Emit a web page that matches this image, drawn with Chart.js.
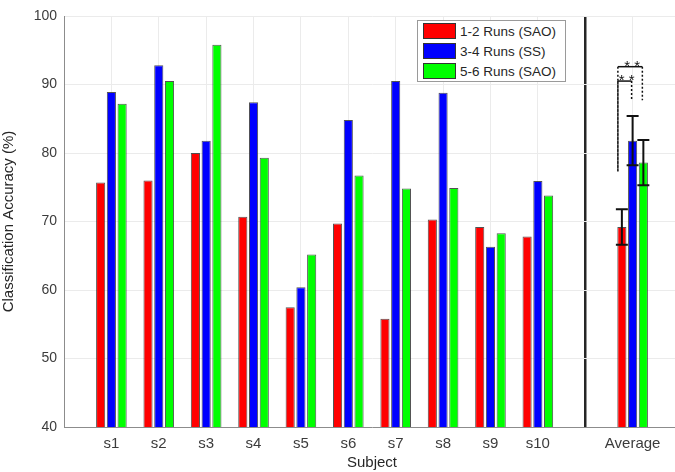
<!DOCTYPE html>
<html>
<head>
<meta charset="utf-8">
<script src="https://cdn.jsdelivr.net/npm/chart.js@4"></script>
<style>
  body { margin: 0; background: #fff; overflow: hidden; }
  #wrap { position: relative; width: 675px; height: 472px; overflow: hidden; }
  #legend {
    position: absolute; left: 417px; top: 20px; width: 147px; height: 60px;
    border: 1px solid #9a9a9a; background: #fff;
    font-family: "Liberation Sans", Arial, sans-serif; font-size: 13.5px; color: #262626;
  }
  #legend div { height: 20px; display: flex; align-items: center; padding-left: 5px; }
  #legend span.sw { width: 31px; height: 14px; border: 1px solid #333; margin-right: 4px; }
</style>
</head>
<body>
<div id="wrap">
  <!-- the plot box runs a few pixels past the right edge, as in the original crop -->
  <canvas id="myChart" width="680" height="472"></canvas>
  <div id="legend"></div>
</div>
<script>
// subjects, with empty slots for the gap and the divider
var labels = ["", "s1", "s2", "s3", "s4", "s5", "s6", "s7", "s8", "s9", "s10", "", "Average", ""];
var runs12 = [null, 75.7, 76.0, 80.0, 70.7, 57.5, 69.7, 55.8, 70.3, 69.2, 67.8, null, 69.2, null];
var runs34 = [null, 88.9, 92.8, 81.8, 87.4, 60.4, 84.8, 90.5, 88.8, 66.3, 75.9, null, 81.8, null];
var runs56 = [null, 87.2, 90.5, 95.8, 79.3, 65.2, 76.7, 74.8, 74.9, 68.3, 73.8, null, 78.6, null];
var seriesNames = ["1-2 Runs (SAO)", "3-4 Runs (SS)", "5-6 Runs (SAO)"];
var seriesColors = ["#ff0000", "#0000ff", "#00ff00"];

// error bars on the average (+/-)
var avgErr = [2.6, 3.6, 3.3];
// significance brackets: [from series, to series, bracket level, leg end left, leg end right]
var sigBrackets = [
  [0, 2, 92.6, 77.3, 87.7],
  [0, 1, 90.5, 77.3, 87.7]
];

var yTicks = [40, 50, 60, 70, 80, 90, 100];
var dividerIndex = 11;
var avgIndex = labels.indexOf("Average");

// legend in html
var legendBox = document.getElementById("legend");
seriesNames.forEach(function (name, i) {
  var row = document.createElement("div");
  row.innerHTML = '<span class="sw" style="background:' + seriesColors[i] + '"></span>' + name;
  legendBox.appendChild(row);
});

// error bars and significance markers
var extras = {
  id: "extras",
  afterDatasetsDraw: function (chart) {
    var ctx = chart.ctx;
    var y = chart.scales.y;
    var cx = [0, 1, 2].map(function (i) { return chart.getDatasetMeta(i).data[avgIndex].x; });
    var vals = [runs12[avgIndex], runs34[avgIndex], runs56[avgIndex]];
    ctx.save();
    ctx.strokeStyle = "#111";
    ctx.lineWidth = 2;
    for (var i = 0; i < 3; i++) {
      var top = y.getPixelForValue(vals[i] + avgErr[i]);
      var bot = y.getPixelForValue(vals[i] - avgErr[i]);
      ctx.beginPath();
      ctx.moveTo(cx[i], top); ctx.lineTo(cx[i], bot);
      ctx.moveTo(cx[i] - 6, top); ctx.lineTo(cx[i] + 6, top);
      ctx.moveTo(cx[i] - 6, bot); ctx.lineTo(cx[i] + 6, bot);
      ctx.stroke();
    }
    ctx.lineWidth = 1.5;
    ctx.fillStyle = "#111";
    ctx.font = "15px 'Liberation Sans', Arial, sans-serif";
    ctx.textAlign = "center";
    ctx.textBaseline = "alphabetic";
    sigBrackets.forEach(function (b) {
      var x1 = cx[b[0]] - 4, x2 = cx[b[1]] - 1;
      var lv = y.getPixelForValue(b[2]);
      ctx.setLineDash([]);
      ctx.beginPath();
      ctx.moveTo(x1, lv); ctx.lineTo(x2, lv);
      ctx.stroke();
      ctx.setLineDash([2, 2]);
      ctx.beginPath();
      ctx.moveTo(x1, lv); ctx.lineTo(x1, y.getPixelForValue(b[3]));
      ctx.moveTo(x2, lv); ctx.lineTo(x2, y.getPixelForValue(b[4]));
      ctx.stroke();
      ctx.fillText("* *", (x1 + x2) / 2 + 2, lv + 4);
    });
    ctx.restore();
  }
};

var datasets = [runs12, runs34, runs56].map(function (d, i) {
  return {
    label: seriesNames[i],
    data: d,
    backgroundColor: seriesColors[i],
    borderColor: "rgba(40,40,40,0.8)",
    borderWidth: 1,
    categoryPercentage: 0.68,
    barPercentage: 0.85
  };
});

var family = "'Liberation Sans', Arial, sans-serif";

new Chart(document.getElementById("myChart").getContext("2d"), {
  type: "bar",
  data: { labels: labels, datasets: datasets },
  options: {
    responsive: false,
    animation: false,
    layout: { padding: { top: 16, right: 0, left: 0, bottom: 0 } },
    plugins: { legend: { display: false }, tooltip: { enabled: false } },
    scales: {
      x: {
        offset: false,
        grid: {
          offset: false,
          drawTicks: false,
          color: function (c) { return c.index === dividerIndex ? "#262626" : "#ebebeb"; },
          lineWidth: function (c) { return c.index === dividerIndex ? 2.5 : 1; }
        },
        border: { color: "#8c8c8c", width: 1 },
        ticks: { font: { family: family, size: 15 }, color: "#3c3c3c", padding: 8, maxRotation: 0, autoSkip: false },
        title: { display: true, text: "Subject", font: { family: family, size: 15 }, color: "#262626", padding: { top: 1, bottom: 0 } },
        afterFit: function (s) { s.height = 45; s.paddingRight = 0; s.paddingLeft = 0; }
      },
      y: {
        min: yTicks[0],
        max: yTicks[yTicks.length - 1],
        ticks: { stepSize: 10, font: { family: family, size: 14 }, color: "#3c3c3c", padding: 7 },
        grid: { color: "#ebebeb", drawTicks: false },
        border: { color: "#8c8c8c", width: 1 },
        title: { display: true, text: "Classification Accuracy (%)", font: { family: family, size: 15 }, color: "#262626", padding: { top: 0, bottom: 4 } },
        afterFit: function (s) { s.width = 64; }
      }
    }
  },
  plugins: [extras]
});
</script>
</body>
</html>
